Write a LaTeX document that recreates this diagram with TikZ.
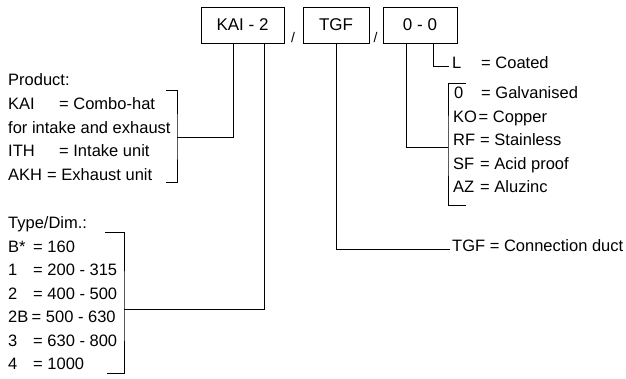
\documentclass[tikz,border=0pt]{standalone}
\usepackage{fontspec}
\setmainfont{Liberation Sans}
\usetikzlibrary{positioning}

\begin{document}
\begin{tikzpicture}[x=1pt, y=-1pt,
        b/.style={draw, line width=0.8pt, minimum height=36pt, inner sep=0pt, font=\fontsize{17}{20}\selectfont},
        t/.style={anchor=mid west, inner sep=0pt, font=\fontsize{16.5}{19}\selectfont},
        sl/.style={inner sep=0pt, font=\fontsize{14}{16}\selectfont},
        ln/.style={line width=0.8pt}]
      \useasboundingbox (0,0) rectangle (626,379);
      % code boxes
      \node[b, minimum width=83pt] (kai) at (242.5,25) {KAI - 2};
      \node[b, minimum width=66pt] (tgf) at (336,25) {TGF};
      \node[b, minimum width=74pt] (mat) at (420,25) {0 - 0};
      \node[sl] (sl1) at (293,37) {/};
      \node[sl] (sl2) at (375.5,37) {/};
      % product
      \node[t] (prod) at (8,83) {Product:};
      \node[t] (kaik) at (8,107) {KAI}; \node[t] (kaiv) at (59,107) {= Combo-hat};
      \node[t] (kaiv2) at (8,130.5) {for intake and exhaust};
      \node[t] (ithk) at (8,154) {ITH}; \node[t] (ithv) at (59,154) {= Intake unit};
      \node[t] (akhk) at (8,177.5) {AKH}; \node[t] (akhv) at (47,177.5) {= Exhaust unit};
      % type / dimension
      \node[t] (type) at (8,226) {Type/Dim.:};
      \node[t] (bk) at (8,249.5) {B*}; \node[t] (bv) at (33,249.5) {= 160};
      \node[t] (onek) at (8,273) {1}; \node[t] (onev) at (33,273) {= 200 - 315};
      \node[t] (twok) at (8,296.5) {2}; \node[t] (twov) at (33,296.5) {= 400 - 500};
      \node[t] (twobk) at (8,320) {2B}; \node[t] (twobv) at (31.5,320) {= 500 - 630};
      \node[t] (threek) at (8,343.5) {3}; \node[t] (threev) at (33,343.5) {= 630 - 800};
      \node[t] (fourk) at (8,367) {4}; \node[t] (fourv) at (33,367) {= 1000};
      % material
      \node[t] (lk) at (452,66) {L}; \node[t] (lv) at (481,66) {= Coated};
      \node[t] (zk) at (454,96) {0}; \node[t] (zv) at (481,96) {= Galvanised};
      \node[t] (kok) at (453,119.5) {KO}; \node[t] (kov) at (478.5,119.5) {= Copper};
      \node[t] (rfk) at (453,143) {RF}; \node[t] (rfv) at (480,143) {= Stainless};
      \node[t] (sfk) at (453,166.5) {SF}; \node[t] (sfv) at (480,166.5) {= Acid proof};
      \node[t] (azk) at (453,190) {AZ}; \node[t] (azv) at (480,190) {= Aluzinc};
      \node[t] (tgfdesc) at (452,249) {TGF = Connection duct};
      % brackets
      \coordinate (prodbr) at (177,137);
      \coordinate (typebr) at (124,309);
      \coordinate (matbr) at (448,147);
      \draw[ln] (166,90) -| (prodbr) |- (166,182);
      \draw[ln] (105,232) -| (typebr) |- (107,373);
      \draw[ln] (466,83) -| (matbr) |- (466,205);
      % connectors
      \draw[ln] ([xshift=-9.5pt]kai.south) |- (prodbr);
      \draw[ln] ([xshift=21.5pt]kai.south) |- (typebr);
      \draw[ln] (tgf.south) |- ([xshift=-2pt]tgfdesc.mid west);
      \draw[ln] ([xshift=-14pt]mat.south) |- (matbr);
      \draw[ln] ([xshift=13pt]mat.south) |- ([xshift=-3pt]lk.mid west);
      \end{tikzpicture}
\end{document}
